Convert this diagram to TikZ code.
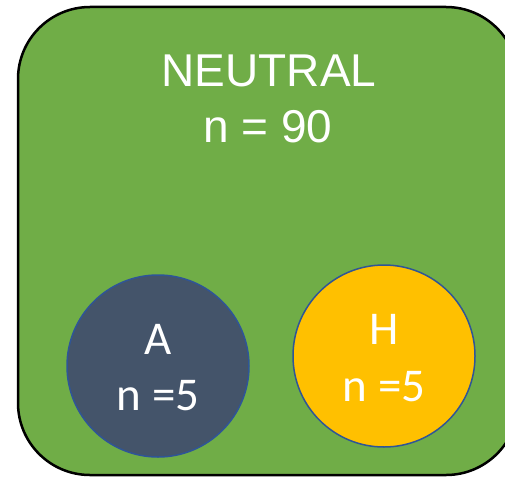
\documentclass[tikz,border=0pt]{standalone}
\usepackage{fontspec}
\newfontfamily\arialf{Liberation Sans}
\newfontfamily\calf{Carlito}
\definecolor{boxgreen}{HTML}{70AD47}
\definecolor{slate}{HTML}{44546A}
\definecolor{gold}{HTML}{FFC000}
\definecolor{rim}{HTML}{2F5597}
\begin{document}
\begin{tikzpicture}[x=1pt,y=-1pt,
  bigtext/.style={text=white,font=\arialf\fontsize{46}{54}\selectfont,anchor=base,inner sep=0pt},
  smalltext/.style={text=white,font=\calf\fontsize{47}{52}\selectfont,anchor=base,inner sep=0pt},
  group/.style={circle,fill=#1,draw=rim,line width=1.5pt,minimum size=182pt,inner sep=0pt}]
\useasboundingbox (0,0) rectangle (505,476);
\begin{scope}
\clip (0,0) rectangle (505,476);
\draw[fill=boxgreen,line width=2.5pt,rounded corners=72pt] (18,7) rectangle (518,475);
\end{scope}
\node[bigtext] (neutral) at (269,87) {NEUTRAL};
\node[bigtext] (nneutral) at (268,142) {n = 90};
\node[group=slate] (cA) at (158,366) {};
\node[group=gold] (cH) at (384,356) {};
\node[smalltext] (lA) at (158,354) {A};
\node[smalltext] (nA) at (158,410) {n =5};
\node[smalltext] (lH) at (384,344) {H};
\node[smalltext] (nH) at (384,401) {n =5};
\end{tikzpicture}
\end{document}
